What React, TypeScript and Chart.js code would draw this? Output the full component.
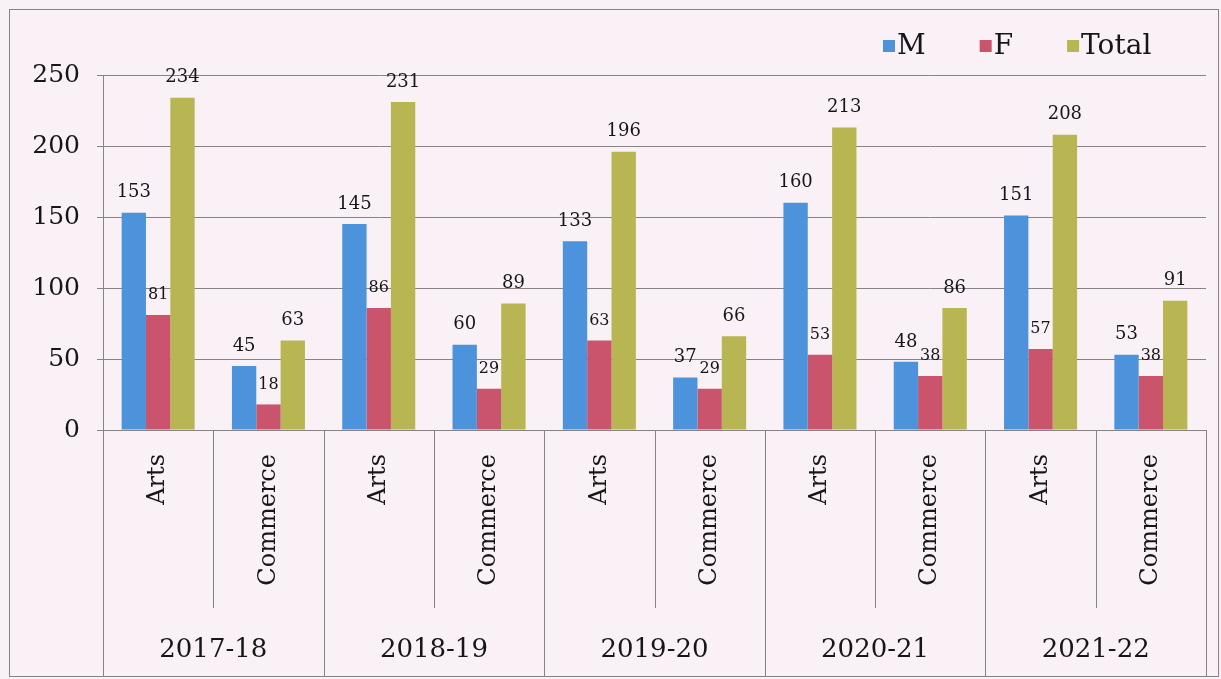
import React, { useEffect, useRef } from "react";
import { Chart, registerables } from "chart.js";

Chart.register(...registerables);

const years = ["2017-18", "2018-19", "2019-20", "2020-21", "2021-22"];
const streams = ["Arts", "Commerce"];
const maleValues = [153, 45, 145, 60, 133, 37, 160, 48, 151, 53];
const femaleValues = [81, 18, 86, 29, 63, 29, 53, 38, 57, 38];
const totalValues = [234, 63, 231, 89, 196, 66, 213, 86, 208, 91];
const seriesNames = ["M", "F", "Total"];
const yTicks = [0, 50, 100, 150, 200, 250];

const FONT = "'DejaVu Serif', 'Liberation Serif', serif";
const BG = "#f9f1f5";
const LINE = "#858385";
const TEXT = "#161616";

const categories: string[] = [];
years.forEach(() => streams.forEach((s) => categories.push(s)));

const decorPlugin = {
  id: "decor",
  beforeDraw(chart: any) {
    const { ctx, width, height } = chart;
    ctx.save();
    ctx.fillStyle = BG;
    ctx.fillRect(0, 0, width, height);
    ctx.strokeStyle = LINE;
    ctx.lineWidth = 1;
    ctx.strokeRect(9.5, 9.5, 1209, 667);
    ctx.restore();
  },
  afterDraw(chart: any) {
    const { ctx, chartArea } = chart;
    const n = categories.length;
    const step = (chartArea.right - chartArea.left) / n;
    ctx.save();
    ctx.strokeStyle = LINE;
    ctx.lineWidth = 1;
    for (let i = 0; i <= n; i++) {
      const px = Math.round(chartArea.left + i * step) + 0.5;
      const isYear = i % streams.length === 0;
      ctx.beginPath();
      ctx.moveTo(px, chartArea.bottom);
      ctx.lineTo(px, isYear ? 677 : 608);
      ctx.stroke();
    }
    // year labels
    ctx.fillStyle = TEXT;
    ctx.font = `26px ${FONT}`;
    ctx.textAlign = "center";
    ctx.textBaseline = "middle";
    years.forEach((yr, i) => {
      const cx = chartArea.left + (i * streams.length + streams.length / 2) * step;
      ctx.fillText(yr, cx, 650);
    });
    // data labels
    chart.data.datasets.forEach((ds: any, di: number) => {
      const meta = chart.getDatasetMeta(di);
      ctx.font = `${di === 1 ? 16 : 18}px ${FONT}`;
      meta.data.forEach((bar: any, j: number) => {
        ctx.fillText(String(ds.data[j]), bar.x, bar.y - 20);
      });
    });
    // legend
    ctx.font = `28px ${FONT}`;
    ctx.textAlign = "left";
    let lx = 883;
    const ly = 46;
    chart.data.datasets.forEach((ds: any) => {
      ctx.fillStyle = ds.backgroundColor;
      ctx.fillRect(lx, ly - 6, 12, 12);
      ctx.fillStyle = TEXT;
      ctx.fillText(ds.label, lx + 14, ly + 1);
      lx += 14 + ctx.measureText(ds.label).width + 54;
    });
    ctx.restore();
  },
};

export default function App() {
  const ref = useRef<HTMLCanvasElement | null>(null);
  useEffect(() => {
    document.body.style.margin = "0";
    const chart = new Chart(ref.current as HTMLCanvasElement, {
      type: "bar",
      data: {
        labels: categories,
        datasets: [
          { label: seriesNames[0], data: maleValues, backgroundColor: "#4d93dc" },
          { label: seriesNames[1], data: femaleValues, backgroundColor: "#c9546c" },
          { label: seriesNames[2], data: totalValues, backgroundColor: "#b7b652" },
        ],
      },
      options: {
        responsive: false,
        animation: false,
        layout: { padding: { left: 0, top: 75, right: 15, bottom: 0 } },
        datasets: { bar: { categoryPercentage: 0.662, barPercentage: 1 } },
        plugins: { legend: { display: false }, tooltip: { enabled: false } },
        scales: {
          x: {
            grid: { display: false, drawTicks: false },
            border: { display: true, color: LINE, width: 1 },
            afterFit: (s: any) => {
              s.height = 249;
            },
            ticks: {
              minRotation: 90,
              maxRotation: 90,
              padding: 24,
              color: TEXT,
              font: { family: FONT, size: 24 },
            },
          },
          y: {
            min: 0,
            max: 250,
            afterFit: (s: any) => {
              s.width = 103;
            },
            afterBuildTicks: (s: any) => {
              s.ticks = yTicks.map((v) => ({ value: v }));
            },
            grid: { color: LINE, lineWidth: 1, tickLength: 6 },
            border: { display: true, color: LINE, width: 1 },
            ticks: {
              padding: 17,
              color: TEXT,
              font: { family: FONT, size: 25 },
            },
          },
        },
      },
      plugins: [decorPlugin],
    });
    return () => chart.destroy();
  }, []);
  return (
    <div style={{ width: 1221, height: 679 }}>
      <canvas ref={ref} width={1221} height={679} style={{ display: "block" }} />
    </div>
  );
}
